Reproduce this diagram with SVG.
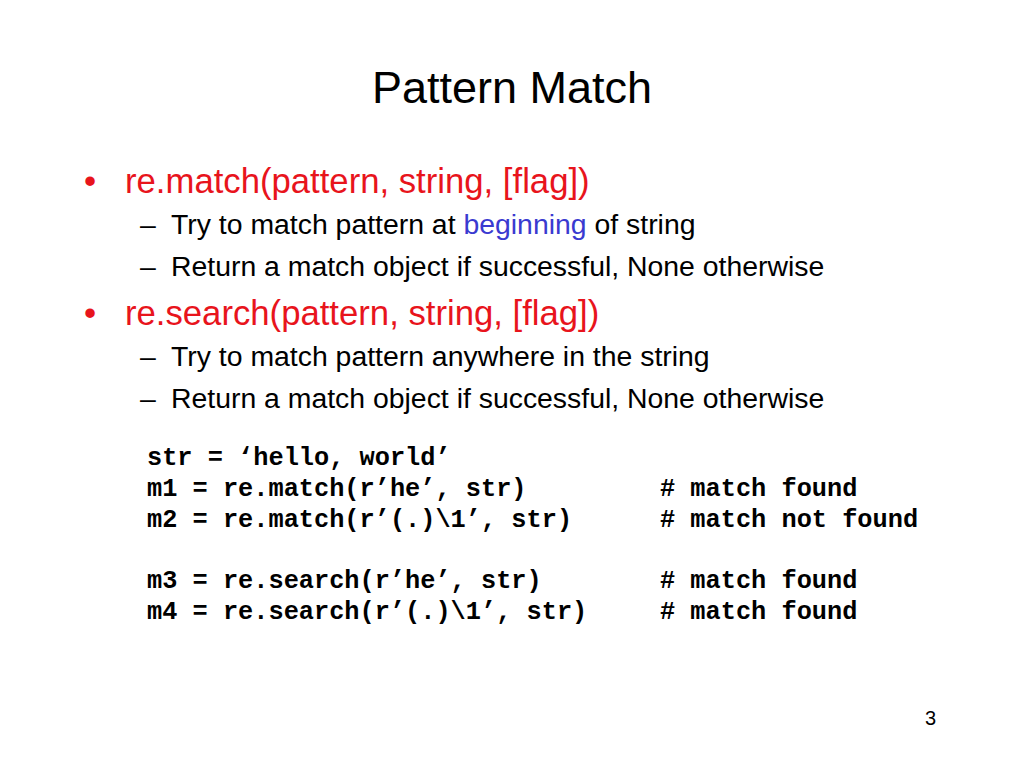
<svg xmlns="http://www.w3.org/2000/svg" width="1024" height="768" viewBox="0 0 1024 768">
<style>
.s{font-family:"Liberation Sans",Arial,sans-serif}
.b{font-size:34.7px;fill:#e8141c}
.d{font-size:28.4px;fill:#000}
.c{font-family:"Liberation Mono","Courier New",monospace;font-weight:bold;font-size:25.3px;fill:#000}
</style>
<rect width="1024" height="768" fill="#fff"/>
<text class="s" x="512" y="103" font-size="45" text-anchor="middle">Pattern Match</text>
<text class="s b" x="84" y="193">•</text>
<text class="s b" x="125" y="193">re.match(pattern, string, [flag])</text>
<text class="s d" x="140" y="234">–</text>
<text class="s d" x="171" y="234">Try to match pattern at <tspan fill="#3a3ad0">beginning</tspan> of string</text>
<text class="s d" x="140" y="276">–</text>
<text class="s d" x="171" y="276">Return a match object if successful, None otherwise</text>
<text class="s b" x="84" y="325">•</text>
<text class="s b" x="125" y="325">re.search(pattern, string, [flag])</text>
<text class="s d" x="140" y="366">–</text>
<text class="s d" x="171" y="366">Try to match pattern anywhere in the string</text>
<text class="s d" x="140" y="408">–</text>
<text class="s d" x="171" y="408">Return a match object if successful, None otherwise</text>
<text class="c" x="147" y="465">str = ‘hello, world’</text>
<text class="c" x="147" y="496">m1 = re.match(r’he’, str)</text>
<text class="c" x="660" y="496"># match found</text>
<text class="c" x="147" y="527">m2 = re.match(r’(.)\1’, str)</text>
<text class="c" x="660" y="527"># match not found</text>
<text class="c" x="147" y="588">m3 = re.search(r’he’, str)</text>
<text class="c" x="660" y="588"># match found</text>
<text class="c" x="147" y="619">m4 = re.search(r’(.)\1’, str)</text>
<text class="c" x="660" y="619"># match found</text>
<text class="s" x="925" y="725" font-size="20">3</text>
</svg>
